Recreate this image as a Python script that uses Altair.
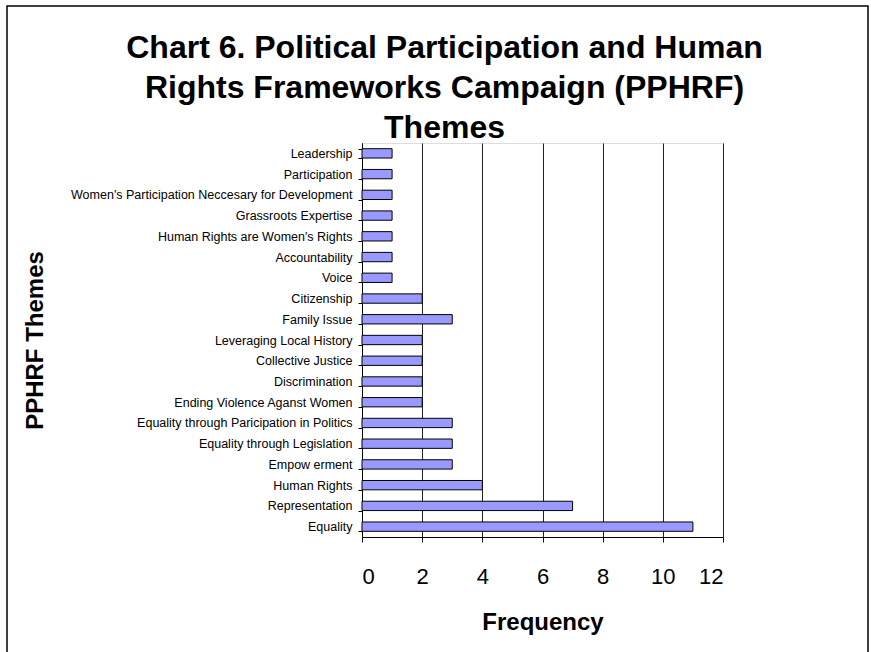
import altair as alt
import pandas as pd

# PPHRF themes, listed top to bottom as they appear on the chart
themes = [
    "Leadership",
    "Participation",
    "Women's Participation Neccesary for Development",
    "Grassroots Expertise",
    "Human Rights are Women's Rights",
    "Accountability",
    "Voice",
    "Citizenship",
    "Family Issue",
    "Leveraging Local History",
    "Collective Justice",
    "Discrimination",
    "Ending Violence Aganst Women",
    "Equality through Paricipation in Politics",
    "Equality through Legislation",
    "Empow erment",
    "Human Rights",
    "Representation",
    "Equality",
]
frequency = [1, 1, 1, 1, 1, 1, 1, 2, 3, 2, 2, 2, 2, 3, 3, 3, 4, 7, 11]
x_ticks = [0, 2, 4, 6, 8, 10, 12]

df = pd.DataFrame({"Theme": themes, "Frequency": frequency})

W, H = 361, 394
LEFT, TOP = 362, 143

bars = alt.Chart(df).mark_bar(
    color="#9999FF", stroke="black", strokeWidth=1
).encode(
    x=alt.X(
        "Frequency:Q",
        scale=alt.Scale(domain=[0, 12], nice=False),
        axis=alt.Axis(
            values=x_ticks,
            title="Frequency",
            titleFont="Liberation Sans",
            titleFontSize=24,
            titleFontWeight="bold",
            titleColor="black",
            titleX=W / 2,
            titleY=92,
            titleBaseline="alphabetic",
            labelFont="Liberation Sans",
            labelFontSize=22,
            labelColor="black",
            labelPadding=24,
            tickSize=5,
            tickColor="black",
            domainColor="black",
            grid=True,
            gridColor="#222222",
            gridWidth=1,
        ),
    ),
    y=alt.Y(
        "Theme:N",
        sort=themes,
        scale=alt.Scale(paddingInner=0.55, paddingOuter=0.275),
        axis=alt.Axis(
            title="PPHRF Themes",
            titleFont="Liberation Sans",
            titleFontSize=24,
            titleFontWeight="bold",
            titleColor="black",
            titleAngle=-90,
            titleX=-327,
            titleY=H / 2,
            titleAlign="center",
            titleBaseline="middle",
            labelFont="Liberation Sans",
            labelFontSize=12.5,
            labelColor="black",
            labelPadding=6,
            labelLimit=400,
            tickSize=4,
            tickColor="black",
            tickBand="extent",
            domainColor="black",
            grid=False,
        ),
    ),
)

# outer border around the chart
frame = alt.Chart(pd.DataFrame({"k": [0]})).mark_rect(
    filled=False, stroke="black", strokeWidth=1.5
).encode(
    x=alt.value(7 - LEFT),
    x2=alt.value(868 - LEFT),
    y=alt.value(6 - TOP),
    y2=alt.value(665 - TOP),
)

chart = alt.layer(bars, frame).properties(
    width=W,
    height=H,
    title=alt.TitleParams(
        text=[
            "Chart 6. Political Participation and Human",
            "Rights Frameworks Campaign (PPHRF)",
            "Themes",
        ],
        font="Liberation Sans",
        fontSize=32,
        fontWeight="bold",
        color="black",
        lineHeight=40,
        anchor="middle",
        dx=-98,
        dy=140,
        offset=0,
    ),
    autosize=alt.AutoSizeParams(type="none"),
    padding={"left": LEFT, "top": TOP, "right": 871 - LEFT - W, "bottom": 652 - TOP - H},
).configure_view(
    fill="#C0C0C0", stroke="#808080", strokeWidth=1
).configure(background="white")

chart.save("out.html", embed_options={"renderer": "svg", "actions": False})
